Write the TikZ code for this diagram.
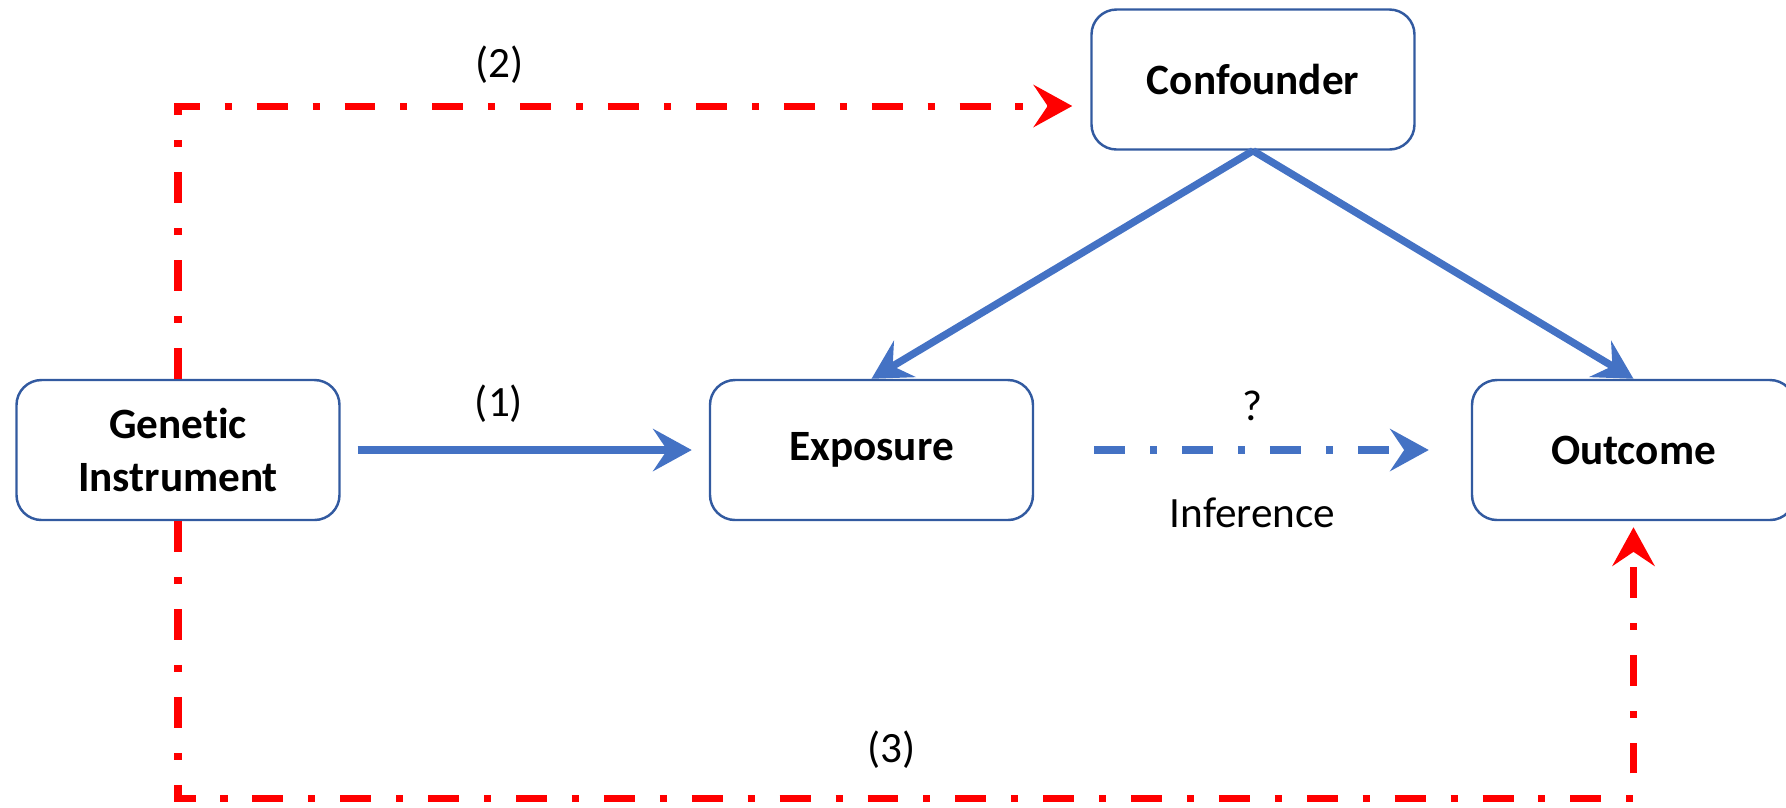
\documentclass[tikz,border=0pt]{standalone}
\usepackage{fontspec}
\setmainfont{Carlito}[Ligatures=CommonOff]
\usepackage{tikz}
\usetikzlibrary{arrows.meta,calc}
\definecolor{boxblue}{RGB}{50,90,160}
\definecolor{arrblue}{RGB}{68,114,196}

\begin{document}
\begin{tikzpicture}[
	box/.style={draw=boxblue,line width=0.7pt,rounded corners=0.25cm,minimum width=3.23cm,minimum height=1.4cm,align=center,font=\fontsize{12.3}{15.2}\selectfont\bfseries},
	lbl/.style={text=black,font=\fontsize{12.3}{15.2}\selectfont},
	tip/.style={-{Stealth[length=11pt,width=12pt,inset=4pt]}},
	bluearrow/.style={arrblue,line width=2.1pt,tip},
	dashdot/.style={dash pattern=on 8.8pt off 7.1pt on 2pt off 7.1pt},
	redpath/.style={red,line width=2pt,dashdot,tip},
	]
	\useasboundingbox (0,0) rectangle (17.86,-8.07);

	% boxes
	\node[box] (gen) at (1.78,-4.50) {Genetic\\Instrument};
	\node[box] (expo) at (8.715,-4.50) {Exposure};
	\node[box] (outc) at (16.335,-4.50) {Outcome};
	\node[box] (conf) at (12.53,-0.795) {Confounder};

	% IV assumptions
	\draw[bluearrow,shorten <=0.17cm,shorten >=0.17cm] (gen) -- (expo) node[lbl,pos=0.43,yshift=0.46cm] {(1)};
	\draw[bluearrow,dashdot,shorten <=0.6cm,shorten >=0.42cm] (expo) -- (outc) node[lbl,midway,yshift=0.44cm] {?} node[lbl,midway,yshift=-0.63cm] {Inference};
	\draw[bluearrow] (conf.south) -- (expo.north);
	\draw[bluearrow] (conf.south) -- (outc.north);

	\draw[redpath] (gen.north) |- ([xshift=-0.18cm,yshift=-0.265cm]conf.west) node[lbl,pos=0.68,yshift=0.41cm] {(2)};
	\draw[redpath,shorten >=0.06cm] (gen.south) -- ++(0,-2.77) -| (outc.south) node[lbl,pos=0.245,yshift=0.49cm] {(3)};
\end{tikzpicture}
\end{document}
